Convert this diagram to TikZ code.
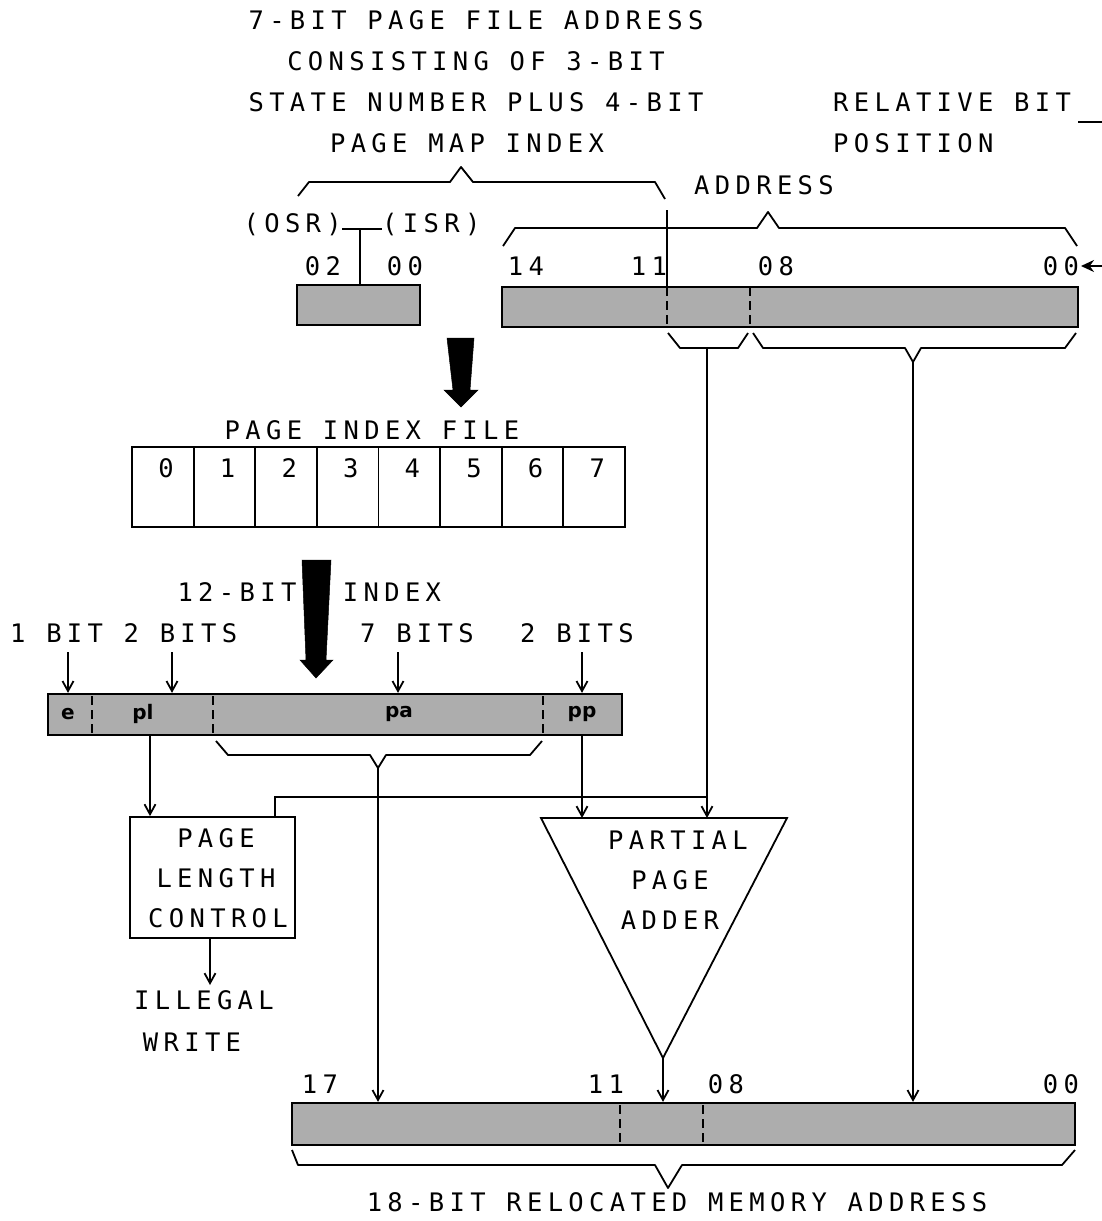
\documentclass[tikz,border=0pt]{standalone}
\usepackage{fontspec}
\newfontfamily\lbfont[LetterSpace=21]{DejaVu Sans Mono}
\newfontfamily\smfont{DejaVu Sans}
\usetikzlibrary{arrows.meta}
\begin{document}
\begin{tikzpicture}[x=1pt,y=-1pt,
 lbl/.style={font=\lbfont\fontsize{25.5}{27}\selectfont, inner sep=0pt},
 fld/.style={font=\smfont\bfseries\fontsize{20}{20}\selectfont, inner sep=0pt},
 ln/.style={line width=1.8pt},
 arr/.style={ln, -{Straight Barb[length=10pt,width=11pt,line width=1.8pt]}},
 reg/.style={draw, line width=2.2pt, fill=black!32, inner sep=0pt},
 cell/.style={draw, line width=1.8pt, inner sep=0pt, minimum width=61.6pt, minimum height=80pt},
 div/.style={line width=1.8pt, dash pattern=on 9pt off 5pt},
 brc/.style={line width=1.8pt, line join=round},
 bigarrow/.style={fill=black, draw=black, line width=0.5pt, line join=miter}]
\useasboundingbox (0,0) rectangle (1102,1221);

% ---------- top texts ----------
\node[lbl] (t1) at (476,20) {7-BIT PAGE FILE ADDRESS};
\node[lbl] (t2) at (476,61) {CONSISTING OF 3-BIT};
\node[lbl] (t3) at (476,102) {STATE NUMBER PLUS 4-BIT};
\node[lbl] (t4) at (467,143) {PAGE MAP INDEX};
\node[lbl, anchor=west] (rb1) at (833,102) {RELATIVE BIT};
\node[lbl, anchor=west] (rb2) at (833,143) {POSITION};
\draw[line width=2.5pt] (1078,122) -- (1102,122);
\node[lbl] (addr) at (764,185) {ADDRESS};

% brace over 7-bit page file address
\draw[brc] (298,196) -- (309,182) -- (450,182) -- (461,167) -- (473,182) -- (655,182) -- (665,199);
% brace over address
\draw[brc] (503,246) -- (515,228) -- (757,228) -- (768,212) -- (779,228) -- (1065,228) -- (1077,246);

% ---------- state register ----------
\node[lbl, anchor=east] (osr) at (342,225) {(OSR)};
\node[lbl, anchor=west] (isr) at (382,225) {(ISR)};
\coordinate (osrj) at (360,229);
\draw[ln] (osr.east |- osrj) -- (isr.west |- osrj);
\node[lbl] (s02) at (323,266) {02};
\node[lbl] (s00) at (405,266) {00};
\node[reg, minimum width=123pt, minimum height=40pt] (sA) at (358.5,305) {};
\draw[ln] (osrj) -- (sA.north -| osrj);

% ---------- address register ----------
\node[lbl] (a14) at (526,266) {14};
\node[lbl] (a11) at (649,266) {11};
\node[lbl] (a08) at (776,266) {08};
\node[lbl] (a00) at (1061,266) {00};
\node[reg, minimum width=576pt, minimum height=40pt] (bT) at (790,307) {};
\draw[div] (667,287) -- (667,327);
\draw[div] (750,287) -- (750,327);
\coordinate (v11) at (667,210);
\draw[ln] (v11) -- (bT.north -| v11);
\coordinate (rbp) at (1102,266);
\draw[ln, -{Stealth[length=13pt,width=12pt]}] (rbp) -- (1081,266);

% braces under address register
\draw[brc] (668,333) -- (680,348) -- (738,348) -- (748,333);
\draw[brc] (753,333) -- (763,348) -- (905,348) -- (913,362) -- (921,348) -- (1065,348) -- (1076,333);
\coordinate (sb) at (707,348);
\coordinate (lb) at (913,362);

% big arrow 1
\draw[bigarrow] (447,338) -- (474,338) -- (470,390) -- (478,390) -- (461,407) -- (444,390) -- (453,390) -- cycle;

% ---------- page index file ----------
\node[lbl] (pif) at (372,430) {PAGE INDEX FILE};
\foreach \i in {0,...,7} {
  \node[cell] (c\i) at ({162.8+61.6*\i},487) {};
  \node[lbl] (n\i) at ({166+61.6*\i},468) {\i};
}

% big arrow 2
\draw[bigarrow] (302,560) -- (331,560) -- (326,660) -- (333,660) -- (316,678) -- (300,660) -- (306,660) -- cycle;
\node[lbl] (b12) at (237,592) {12-BIT};
\node[lbl] (bix) at (392,592) {INDEX};

% ---------- index register ----------
\node[lbl, anchor=west] (w1) at (10,633) {1 BIT 2 BITS};
\node[lbl, anchor=west] (w3) at (360,633) {7 BITS};
\node[lbl, anchor=west] (w4) at (520,633) {2 BITS};
\node[reg, minimum width=574pt, minimum height=41pt] (iB) at (335,714.5) {};
\draw[div] (92,696) -- (92,733);
\draw[div] (213,696) -- (213,733);
\draw[div] (543,696) -- (543,733);
\node[fld] (fe) at (68,714) {e};
\node[fld] (fpl) at (143,714) {pl};
\node[fld] (fpa) at (399,714) {pa};
\node[fld] (fpp) at (582,714) {pp};
\coordinate (a1) at (68,652);
\coordinate (a2) at (172,652);
\coordinate (a3) at (398,652);
\coordinate (a4) at (582,652);
\foreach \c in {a1,a2,a3,a4} \draw[arr] (\c) -- (iB.north -| \c);

% brace under pa
\draw[brc] (216,741) -- (228,755) -- (370,755) -- (378,768) -- (386,755) -- (530,755) -- (542,741);
\coordinate (pab) at (378,768);

% ---------- page length control ----------
\node[draw, line width=1.8pt, minimum width=165pt, minimum height=121pt, inner sep=0pt] (plc) at (212.5,877.5) {};
\node[lbl] (p1) at (216,838) {PAGE};
\node[lbl] (p2) at (216,878) {LENGTH};
\node[lbl] (p3) at (218,918) {CONTROL};
\node[lbl] (ill1) at (204,1000) {ILLEGAL};
\node[lbl] (ill2) at (192,1042) {WRITE};
\coordinate (plx) at (150,735);
\draw[arr] (iB.south -| plx) -- (plc.north -| plx);
\coordinate (ilx) at (210,985);
\draw[arr] (plc.south -| ilx) -- (ilx);

% ---------- partial page adder ----------
\coordinate (tL) at (541,818);
\coordinate (tR) at (787,818);
\coordinate (tA) at (663,1058);
\draw[ln, line join=miter] (tL) -- (tR) -- (tA) -- cycle;
\node[lbl] (q1) at (678,840) {PARTIAL};
\node[lbl] (q2) at (670,880) {PAGE};
\node[lbl] (q3) at (670,920) {ADDER};
\coordinate (ppx) at (582,735);
\draw[arr] (iB.south -| ppx) -- (tL -| ppx);
\draw[arr] (sb) -- (tL -| sb);
\coordinate (fb) at (275,797);
\draw[ln] (plc.north -| fb) -- (fb) -- (fb -| sb);

% ---------- relocated address ----------
\node[lbl] (r17) at (320,1084) {17};
\node[lbl] (r11) at (606,1084) {11};
\node[lbl] (r08) at (726,1084) {08};
\node[lbl] (r00) at (1061,1084) {00};
\node[reg, minimum width=783pt, minimum height=42pt] (bB) at (683.5,1124) {};
\draw[div] (620,1105) -- (620,1143);
\draw[div] (703,1105) -- (703,1143);
\draw[arr] (pab) -- (bB.north -| pab);
\draw[arr] (tA) -- (bB.north -| tA);
\draw[arr] (lb) -- (bB.north -| lb);
\draw[brc] (292,1150) -- (298,1165) -- (655,1165) -- (668,1188) -- (682,1165) -- (1062,1165) -- (1075,1150);
\node[lbl] (rel) at (677,1202) {18-BIT RELOCATED MEMORY ADDRESS};
\end{tikzpicture}
\end{document}
